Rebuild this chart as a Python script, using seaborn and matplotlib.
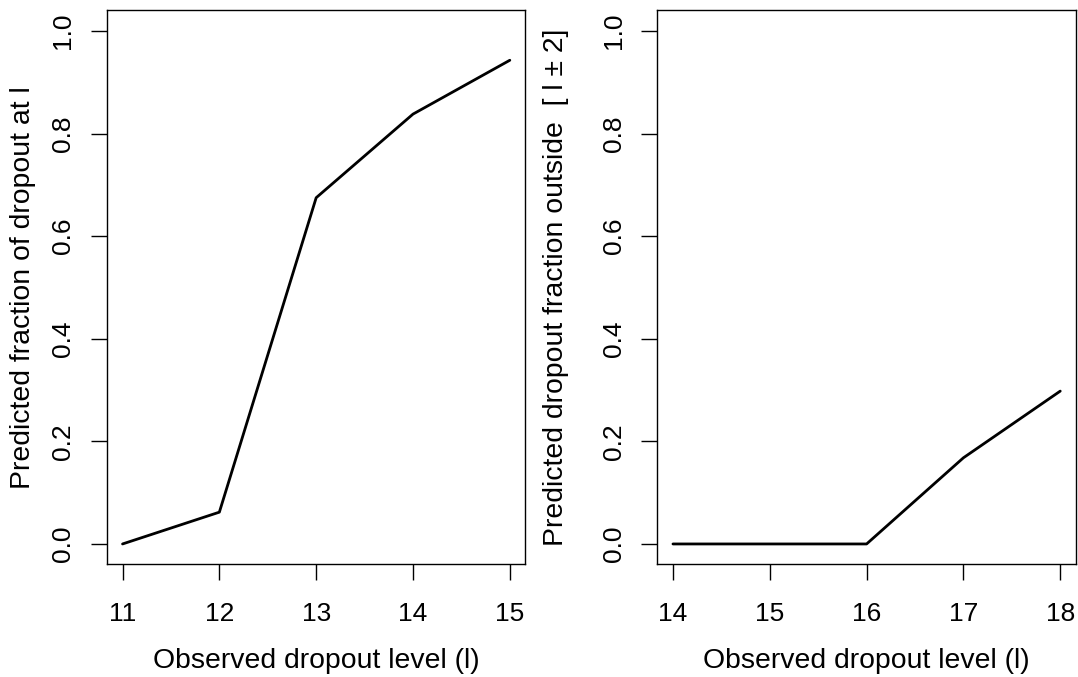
import matplotlib
matplotlib.use("Agg")
import matplotlib.pyplot as plt
import seaborn as sns
import pandas as pd

# Left panel data
levels_left = [11, 12, 13, 14, 15]
frac_at_level = [0.0, 0.062, 0.675, 0.838, 0.943]

# Right panel data
levels_right = [14, 15, 16, 17, 18]
frac_outside = [0.0, 0.0, 0.0, 0.168, 0.298]

yticks = [0.0, 0.2, 0.4, 0.6, 0.8, 1.0]
xlabel = "Observed dropout level (l)"
ylabel_left = "Predicted fraction of dropout at l"
ylabel_right = "Predicted dropout fraction outside  [ l \u00b1 2]"

sns.set_style("ticks")
plt.rcParams['font.family'] = ['Liberation Sans', 'DejaVu Sans']
plt.rcParams['text.color'] = 'black'
plt.rcParams['axes.labelcolor'] = 'black'

fig = plt.figure(figsize=(10.78, 6.77), dpi=100)
ax1 = fig.add_axes([0.0993, 0.1662, 0.3880, 0.8183])
ax2 = fig.add_axes([0.6099, 0.1662, 0.3880, 0.8183])

df1 = pd.DataFrame({"x": levels_left, "y": frac_at_level})
df2 = pd.DataFrame({"x": levels_right, "y": frac_outside})

FST = 19      # tick labels
FSL = 20.4    # axis labels
for ax, df, xs, yl, ylx in [(ax1, df1, levels_left, ylabel_left, -0.170),
                            (ax2, df2, levels_right, ylabel_right, -0.212)]:
    sns.lineplot(data=df, x="x", y="y", ax=ax, color="black", linewidth=2.0)
    rng = xs[-1] - xs[0]
    ax.set_xlim(xs[0] - 0.04 * rng, xs[-1] + 0.04 * rng)
    ax.set_ylim(-0.04, 1.04)
    ax.set_xticks(xs)
    ax.set_xticklabels([str(v) for v in xs], fontsize=FST)
    ax.set_yticks(yticks)
    ax.set_yticklabels([f"{v:.1f}" for v in yticks], rotation=90,
                       va="center", fontsize=FST)
    for s in ax.spines.values():
        s.set_visible(True)
        s.set_linewidth(1.0)
        s.set_color("black")
    ax.tick_params(axis="both", direction="out", length=11.5, width=1.0,
                   colors="black", labelcolor="black")
    ax.tick_params(axis="x", pad=15.5)
    ax.tick_params(axis="y", pad=11.5)
    ax.set_xlabel(xlabel, fontsize=FSL, color="black")
    ax.xaxis.set_label_coords(0.5, -0.150)
    ax.set_ylabel(yl, fontsize=FSL, color="black")
    ax.yaxis.set_label_coords(ylx, 0.5)

fig.savefig("out.png", dpi=100)
